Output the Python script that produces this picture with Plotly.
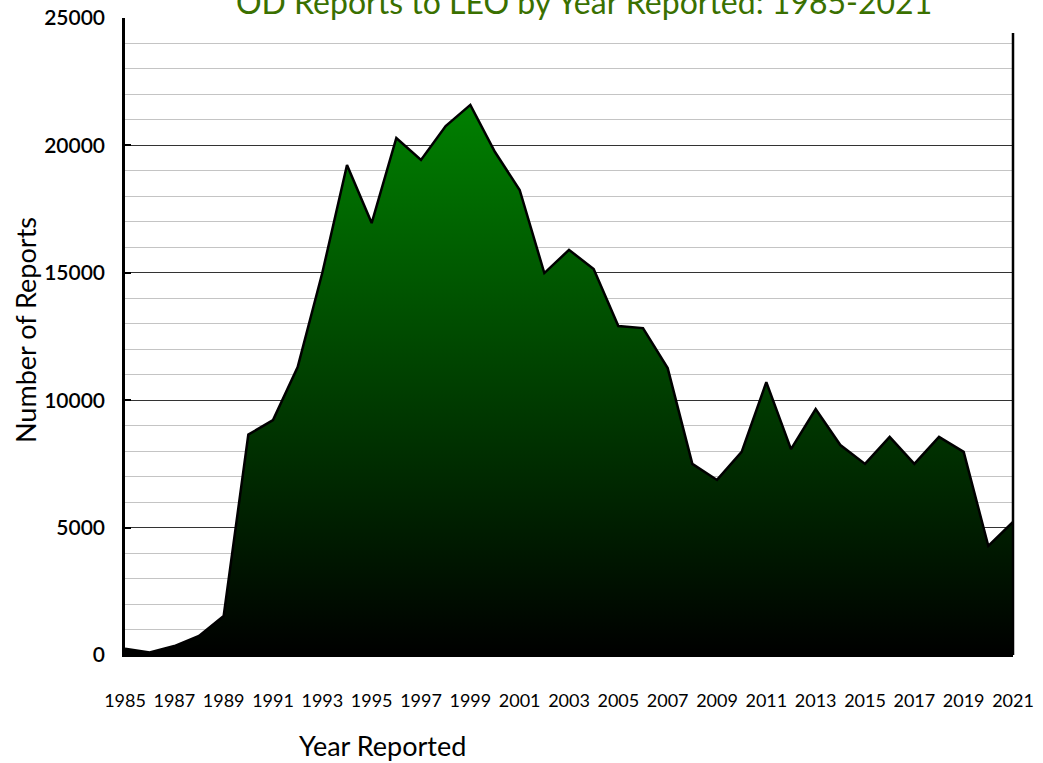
import plotly.graph_objects as go

years = list(range(1985, 2022))
reports = [250, 100, 350, 750, 1530, 8650, 9220, 11300, 15000, 19230,
           16950, 20290, 19430, 20760, 21590, 19740, 18250, 14990, 15900, 15150,
           12910, 12830, 11260, 7500, 6870, 7970, 10710, 8080, 9650, 8240,
           7500, 8560, 7500, 8560, 7970, 4280, 5220]
x_ticks = list(range(1985, 2022, 2))
y_ticks = [0, 5000, 10000, 15000, 20000, 25000]
y_tick_text = ["0", "5000", "10000", "15000", "20000", "25000"]
major_grid = [5000, 10000, 15000, 20000]

title_text = "OD Reports to LEO by Year Reported: 1985-2021"
font_family = "Lato, Open Sans, sans-serif"

fig = go.Figure()
fig.add_trace(go.Scatter(
    x=years, y=reports, mode="lines", fill="tozeroy",
    line=dict(color="black", width=2.5),
    fillgradient=dict(type="vertical",
                      colorscale=[[0, "#000000"], [1, "#008000"]]),
    hoverinfo="x+y", showlegend=False,
))
fig.add_trace(go.Scatter(x=[years[0]], y=[0], yaxis="y2", mode="markers",
                         marker=dict(opacity=0), showlegend=False, hoverinfo="skip"))

L, R, T, B = 125, 30, 18, 108
W, H = 1043, 763
pw = W - L - R
ph = H - T - B

fig.update_layout(
    width=W, height=H,
    margin=dict(l=L, r=R, t=T, b=B, autoexpand=False),
    paper_bgcolor="white", plot_bgcolor="white",
    font=dict(family=font_family, color="black"),
    title=dict(text=title_text, x=0.56, xanchor="center", y=0.997, yanchor="middle",
               yref="container", automargin=False,
               font=dict(size=32, color="#3a7000", family=font_family)),
    xaxis=dict(range=[1985, 2021], tickvals=x_ticks, showgrid=False, automargin=False,
               showline=True, linecolor="black", linewidth=2,
               ticks="", ticklabelstandoff=28,
               tickfont=dict(size=18, color="black"), zeroline=False),
    yaxis=dict(range=[0, 25000], tickvals=y_ticks, ticktext=y_tick_text,
               showgrid=False, automargin=False,
               showline=True, linecolor="black", linewidth=2.5,
               ticks="inside", ticklen=6, tickcolor="black", tickwidth=2,
               ticklabelstandoff=13,
               tickfont=dict(size=21, color="black", weight=600),
               zeroline=False,
               minor=dict(dtick=1000, showgrid=True, gridcolor="#c4c4c4", gridwidth=1.2,
                          ticks="")),
    yaxis2=dict(range=[0, 25000], overlaying="y", tickvals=major_grid, automargin=False,
                showgrid=True, gridcolor="#333333", gridwidth=1.2,
                showticklabels=False, showline=False, zeroline=False, side="left"),
    annotations=[
        dict(text="Year Reported", xref="paper", yref="paper",
             x=(382 - L) / pw, y=(H - B - 745) / ph,
             xanchor="center", yanchor="middle", showarrow=False,
             font=dict(size=27, color="black")),
        dict(text="Number of Reports", xref="paper", yref="paper",
             x=(25 - L) / pw, y=(H - B - 330) / ph, textangle=-90,
             xanchor="center", yanchor="middle", showarrow=False,
             font=dict(size=27, color="black")),
    ],
)
fig.add_shape(type="line", xref="paper", yref="paper", x0=1, x1=1,
              y0=0, y1=(H - B - 33) / ph, line=dict(color="black", width=2.5))

fig.write_html("out.html", config={"displayModeBar": False},
               post_script="document.body.style.margin='0px';document.body.style.overflow='hidden';")
